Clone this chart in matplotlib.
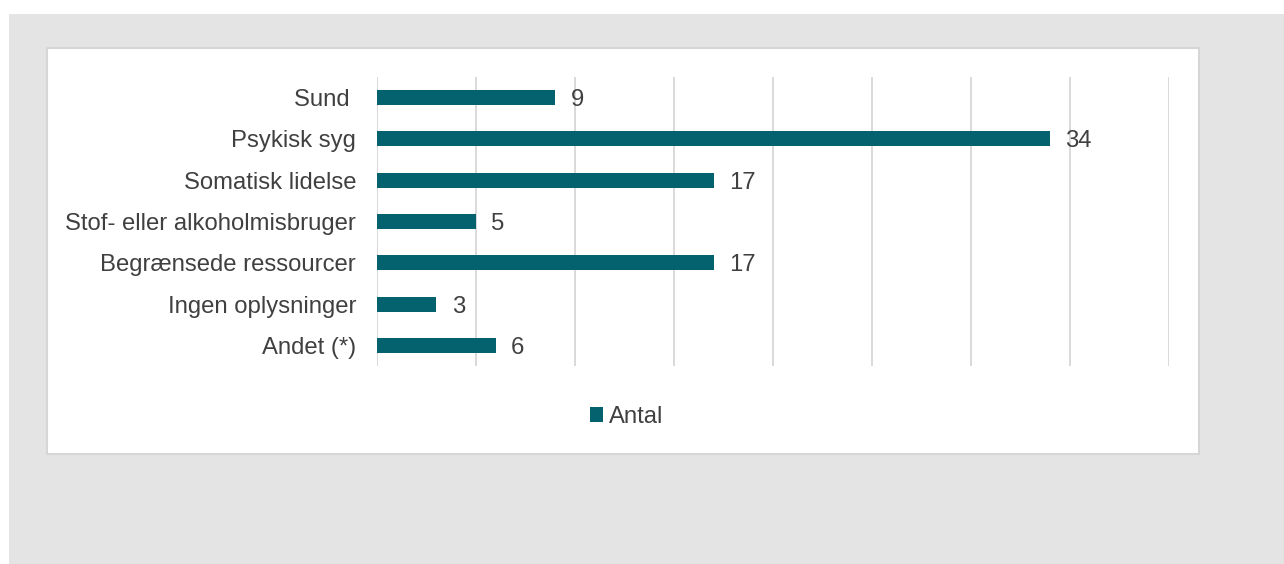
import matplotlib
matplotlib.use("Agg")
import matplotlib.pyplot as plt
from matplotlib.patches import Rectangle

categories = ["Sund ", "Psykisk syg", "Somatisk lidelse", "Stof- eller alkoholmisbruger",
              "Begrænsede ressourcer", "Ingen oplysninger", "Andet (*)"]
values = [9, 34, 17, 5, 17, 3, 6]
series_name = "Antal"

BAR = "#04616E"
TXT = "#404040"
W, H = 1284, 564
FS = 17.2

plt.rcParams['font.family'] = ['Liberation Sans', 'DejaVu Sans']
fig = plt.figure(figsize=(W / 100, H / 100), dpi=100)
fig.patch.set_facecolor("white")

def fx(px):
    return px / W

def fy(py):
    return 1 - py / H

# gray background
fig.patches.append(Rectangle((fx(9), 0), 1 - fx(9), fy(14), transform=fig.transFigure,
                             facecolor="#e4e4e4", edgecolor="none", zorder=0))
# white panel
fig.patches.append(Rectangle((fx(47), fy(454)), fx(1199) - fx(47), fy(48) - fy(454),
                             transform=fig.transFigure, facecolor="white",
                             edgecolor="#d6d6d6", linewidth=1.5, zorder=1))

ax = fig.add_axes([fx(377), fy(366), fx(1169) - fx(377), fy(77) - fy(366)])
ax.set_facecolor("none")
ax.set_zorder(2)
ypos = list(range(len(categories)))
bars = ax.barh(ypos, values, height=0.36, color=BAR, label=series_name, zorder=3)
ax.set_xlim(0, 40)
ax.set_ylim(len(categories) - 0.5, -0.5)
ax.set_xticks(range(0, 41, 5))
ax.xaxis.grid(True, color="#d9d9d9", linewidth=1.4)
ax.set_axisbelow(True)
ax.tick_params(axis="x", length=0, labelbottom=False)
ax.set_yticks(ypos)
ax.set_yticklabels(categories, fontsize=FS, color=TXT)
for lab in ax.get_yticklabels():
    lab.set_va("center_baseline")
ax.tick_params(axis="y", length=0, pad=15)
for s in ax.spines.values():
    s.set_visible(False)

for y, v in zip(ypos, values):
    ax.annotate(str(v), xy=(v, y), xytext=(11, 0), textcoords="offset points",
                va="center_baseline", ha="left", fontsize=FS, color=TXT)

leg = fig.legend(handles=[bars], labels=[series_name], loc="center",
                 bbox_to_anchor=(fx(627), fy(417)), frameon=False, fontsize=FS,
                 handlelength=0.55, handleheight=0.55, handletextpad=0.25)
for t in leg.get_texts():
    t.set_color(TXT)

fig.savefig("out.png", dpi=100)
